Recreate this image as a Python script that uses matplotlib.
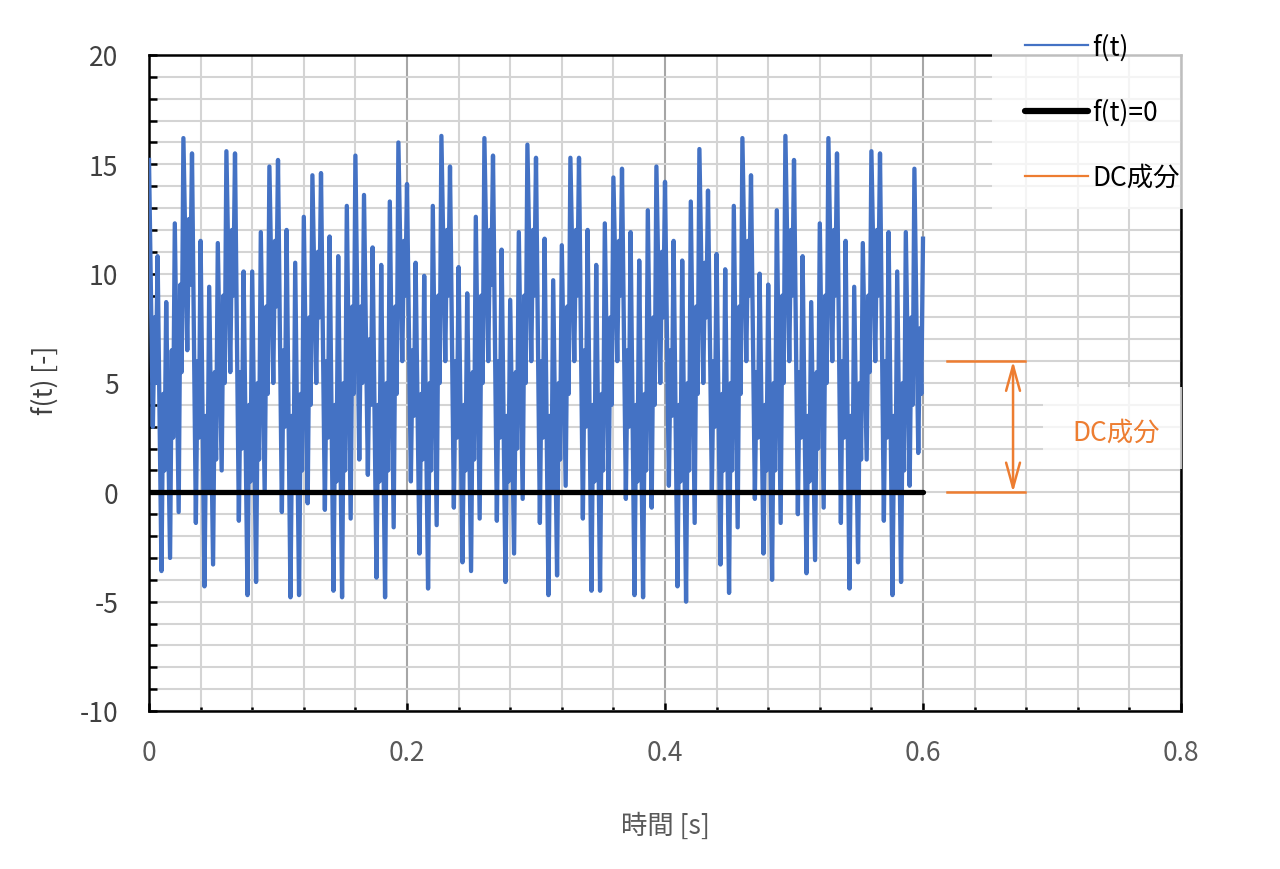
import matplotlib.pyplot as plt
from matplotlib.patches import Rectangle
from matplotlib.lines import Line2D
import numpy as np

plt.rcParams['font.family'] = ['Noto Sans CJK JP', 'DejaVu Sans']
plt.rcParams['axes.unicode_minus'] = False

# local maxima of f(t) in time order (t = 0 ... 0.6 s)
peaks = [15.2, 10.8, 8.7, 12.3, 16.2, 15.5, 11.5, 9.4, 11.4, 15.6, 15.5,
         10.1, 10.1, 11.9, 14.9, 15.2, 12.0, 10.5, 12.6, 14.5, 14.6, 11.7,
         10.8, 13.1, 15.4, 13.6, 11.2, 10.4, 13.3, 16.0, 14.1, 10.5, 9.9,
         13.1, 16.3, 14.9, 10.3, 9.1, 12.6, 16.2, 15.4, 11.1, 8.8, 11.9, 15.9,
         15.3, 11.6, 9.7, 11.3, 15.3, 15.3, 12.0, 10.4, 12.3, 14.4, 14.8,
         11.9, 10.6, 12.9, 14.9, 14.2, 11.5, 10.6, 13.3, 15.7, 13.8, 10.9, 10.2,
         13.1, 16.2, 14.5, 10.0, 9.5, 12.9, 16.3, 15.2, 10.8, 8.7, 12.3, 16.2,
         15.5, 11.5, 9.4, 11.4, 15.6, 15.5, 11.9, 10.1, 11.9, 14.8, 11.6]
# local minima after each peak
troughs = [3.0, -3.6, -3.0, -0.9, 6.5, -1.4, -4.3, -3.3, 1.0, 5.5, -1.3,
           -4.7, -4.1, 0.0, 5.0, -0.9, -4.8, -4.7, -0.5, 5.0, -0.8, -4.5,
           -4.8, -1.2, 1.5, 0.8, -3.9, -4.8, -1.6, 6.0, 0.5, -2.8, -4.4,
           -1.5, 6.0, -0.7, -3.2, -3.6, -1.2, 6.0, -1.3, -4.1, -2.8, -0.3, 6.0,
           -1.4, -4.7, -3.8, 0.3, 6.0, -1.2, -4.5, -4.5, 0.1, 6.0, -0.3,
           -4.7, -4.8, -0.7, 5.0, 0.3, -4.3, -5.0, -1.4, 5.0, 0.1, -3.3, -4.6,
           -1.6, 6.0, -0.3, -2.8, -4.0, -1.4, 6.0, -1.0, -3.7, -3.1, -0.7,
           6.0, -1.4, -4.4, -3.2, 1.5, 6.0, -1.3, -4.7, -4.1, 0.3, 1.8]
# small wiggle on each rise from a trough to the next peak (up to hi, back to lo)
wiggle_hi = [8.0, 4.5, 6.5, 9.5, 12.5, 6.0, 3.5, 5.5, 9.0, 12.0, 5.5,
             4.0, 5.0, 8.5, 11.5, 6.5, 3.5, 4.5, 8.0, 11.0, 6.0, 4.0,
             5.0, 8.5, 8.5, 7.0, 4.0, 5.0, 8.5, 11.5, 6.5, 4.5, 5.0,
             9.0, 12.0, 6.0, 4.0, 5.5, 9.0, 12.0, 6.0, 3.5, 5.5, 9.0, 12.0,
             6.0, 3.5, 5.0, 8.5, 12.0, 6.5, 4.0, 4.5, 8.0, 11.5, 6.5,
             4.0, 4.5, 8.0, 11.0, 6.5, 4.0, 5.0, 8.5, 10.5, 6.0, 4.5, 5.0,
             8.5, 11.5, 5.5, 4.0, 5.0, 9.0, 12.0, 5.5, 3.5, 5.5, 9.0,
             12.0, 6.0, 3.5, 5.0, 9.0, 12.0, 6.0, 3.5, 5.0, 8.0, 7.5]
wiggle_lo = [5.0, 1.0, 2.5, 5.5, 9.5, 2.5, 0.0, 1.5, 5.0, 9.0, 2.0,
             0.5, 1.5, 4.5, 8.5, 3.0, 0.0, 1.0, 4.0, 8.0, 2.5, 0.5,
             1.0, 4.5, 5.0, 4.0, 0.5, 1.0, 4.5, 9.0, 3.5, 1.5, 1.0,
             5.0, 9.0, 2.5, 1.0, 1.5, 5.0, 9.5, 2.5, 0.5, 2.0, 5.0, 9.0,
             2.5, 0.0, 1.5, 4.5, 9.0, 3.0, 0.5, 1.0, 4.0, 9.0, 3.0,
             0.5, 1.0, 4.0, 8.0, 3.5, 0.5, 1.0, 4.5, 8.0, 3.0, 1.0, 1.0,
             4.5, 9.0, 2.5, 1.0, 1.0, 5.0, 9.0, 2.5, 0.5, 2.0, 5.0,
             9.0, 2.5, 0.0, 1.5, 5.5, 9.0, 2.5, 0.0, 1.0, 4.0, 4.5]
t_end = 0.6
dc_level = 6

# each cycle: peak -> trough -> wiggle hi -> wiggle lo -> next peak
t_peak = np.linspace(0, t_end, len(peaks))
dt = t_peak[1] - t_peak[0]
t_cyc = t_peak[:-1, None] + dt * np.array([0, 0.45, 0.65, 0.8])
f_cyc = np.column_stack([peaks[:-1], troughs, wiggle_hi, wiggle_lo])
t = np.append(t_cyc.ravel(), t_peak[-1])
f = np.append(f_cyc.ravel(), peaks[-1])

blue = '#4472C4'
orange = '#ED7D31'

fig = plt.figure(figsize=(12.8, 8.7), dpi=100)
ax = fig.add_axes([149/1280, 1-712/870, 1032/1280, 656/870])

ax.plot(t, f, color=blue, lw=3.1, zorder=3, solid_joinstyle='round')
ax.plot([0, t_end], [0, 0], color='black', lw=3.8, solid_capstyle='round', zorder=4)

# DC component marker
for lvl in (0, dc_level):
    ax.plot([0.6186, 0.679], [lvl, lvl], color=orange, lw=1.8, zorder=4)
ax.annotate('', xy=(0.6698, dc_level), xytext=(0.6698, 0),
            arrowprops=dict(arrowstyle='<->,head_length=0.9,head_width=0.25',
                            color=orange, lw=1.8, mutation_scale=20,
                            shrinkA=0, shrinkB=0), zorder=4)
ax.add_patch(Rectangle((0.693, 1.07), 0.1078, 3.75, facecolor='white', alpha=0.75,
                       edgecolor='none', zorder=5, clip_on=False))
ax.text(0.7155, 2.75, 'DC成分', color=orange, fontsize=19, va='center', ha='left', zorder=6)

ax.set_xlim(0, 0.8)
ax.set_ylim(-10, 20)
ax.set_xticks(np.arange(0, 0.81, 0.2))
ax.set_xticks(np.arange(0, 0.81, 0.04), minor=True)
ax.set_xticklabels(['0', '0.2', '0.4', '0.6', '0.8'])
ax.set_yticks(np.arange(-10, 21, 5))
ax.set_yticks(np.arange(-10, 21, 1), minor=True)

ax.set_axisbelow(True)
ax.grid(which='minor', color='#d4d4d4', lw=1.5)
ax.grid(which='major', axis='y', color='#d4d4d4', lw=1.5)
ax.grid(which='major', axis='x', color='#a6a6a6', lw=1.5)

ax.tick_params(which='both', direction='in', width=1.8, color='black')
ax.tick_params(axis='y', which='both', length=5.5, labelsize=19, pad=22, labelcolor='#404040')
ax.tick_params(axis='x', which='major', length=5.5, labelsize=19, pad=20, labelcolor='#595959')
ax.tick_params(axis='x', which='minor', length=3)
for s in ax.spines.values():
    s.set_linewidth(1.8)

ax.set_xlabel('時間 [s]', fontsize=19, color='#595959', va='center')
ax.xaxis.set_label_coords(0.5, -0.174)
ax.set_ylabel('f(t) [-]', fontsize=19, color='#404040', va='center')
ax.yaxis.set_label_coords(-0.1008, 0.506)

# legend on a translucent white panel
fig.add_artist(Rectangle((992/1280, 1-210/870), (1215-992)/1280, (210-25)/870,
                         transform=fig.transFigure, facecolor='white', alpha=0.75,
                         edgecolor='none', zorder=5))
handles = [Line2D([], [], color=blue, lw=1.6),
           Line2D([], [], color='black', lw=4.5, solid_capstyle='round'),
           Line2D([], [], color=orange, lw=1.6)]
fig.legend(handles, ['f(t)', 'f(t)=0', 'DC成分'], loc='upper left',
           bbox_to_anchor=(1025/1280, 1-34/870), frameon=False, fontsize=19,
           handlelength=2.39, handletextpad=0.15, labelspacing=1.45,
           borderpad=0, borderaxespad=0).set_zorder(6)

fig.savefig('out.png', dpi=100)
